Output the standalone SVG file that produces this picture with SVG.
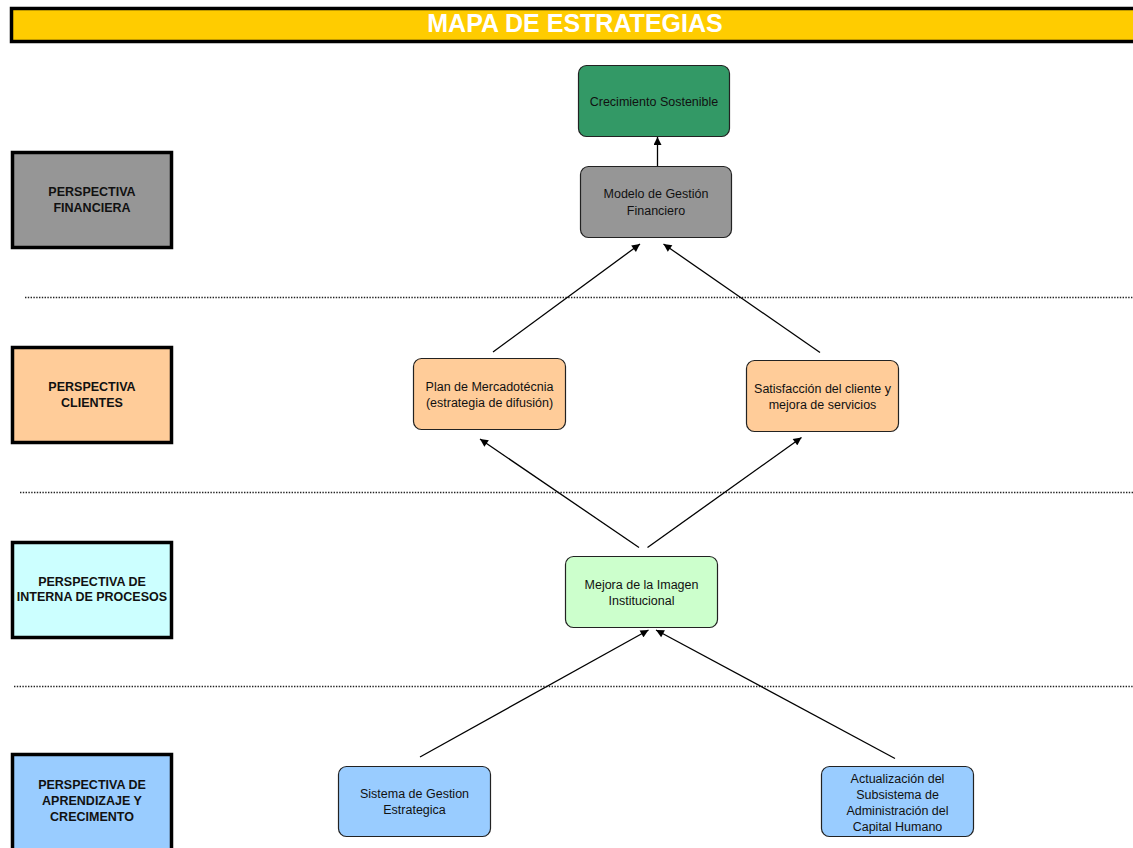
<svg xmlns="http://www.w3.org/2000/svg" width="1133" height="848" viewBox="0 0 1133 848">
<style>
.persp{stroke:#000;stroke-width:3.5}
.plabel{font-family:"Liberation Sans",Arial,sans-serif;font-weight:bold;font-size:12.5px;fill:#111;text-anchor:middle}
.node{stroke:#222;stroke-width:1.2}
.nlabel{font-family:"Liberation Sans",Arial,sans-serif;font-size:12.5px;fill:#111;text-anchor:middle}
.sep{stroke:#222;stroke-width:1.3;stroke-dasharray:1.4 1.4;fill:none}
.conn{stroke:#000;stroke-width:1.3;fill:none;marker-end:url(#arr)}
</style>
<defs>
<marker id="arr" viewBox="0 0 10 10" refX="10" refY="5" markerWidth="9" markerHeight="8" markerUnits="userSpaceOnUse" orient="auto">
<path d="M0,0 L10,5 L0,10 z" fill="#000"/>
</marker>
</defs>
<rect width="1133" height="848" fill="#fff"/>
<g id="title">
<rect x="11.5" y="8.5" width="1130" height="33" fill="#FFCC00" stroke="#000" stroke-width="3.5"/>
<text x="575" y="31.5" font-family="Liberation Sans,Arial,sans-serif" font-weight="bold" font-size="25" fill="#fff" text-anchor="middle">MAPA DE ESTRATEGIAS</text>
</g>
<g id="separators">
<line class="sep" x1="25" y1="297.5" x2="1133" y2="297.5"/>
<line class="sep" x1="20" y1="492.5" x2="1133" y2="492.5"/>
<line class="sep" x1="14" y1="686.5" x2="1133" y2="686.5"/>
</g>
<g id="persp-financiera">
<rect class="persp" x="12.5" y="152.5" width="159" height="95" fill="#969696"/>
<text class="plabel"><tspan x="92" y="196">PERSPECTIVA</tspan><tspan x="92" y="212">FINANCIERA</tspan></text>
</g>
<g id="persp-clientes">
<rect class="persp" x="12.5" y="347.5" width="159" height="95" fill="#FFCC99"/>
<text class="plabel"><tspan x="92" y="391">PERSPECTIVA</tspan><tspan x="92" y="407">CLIENTES</tspan></text>
</g>
<g id="persp-procesos">
<rect class="persp" x="12.5" y="542.5" width="159" height="95" fill="#CCFFFF"/>
<text class="plabel"><tspan x="92" y="586">PERSPECTIVA DE</tspan><tspan x="92" y="601">INTERNA DE PROCESOS</tspan></text>
</g>
<g id="persp-aprendizaje">
<rect class="persp" x="12.5" y="754.5" width="159" height="100" fill="#99CCFF"/>
<text class="plabel"><tspan x="92" y="789">PERSPECTIVA DE</tspan><tspan x="92" y="805">APRENDIZAJE Y</tspan><tspan x="92" y="821">CRECIMENTO</tspan></text>
</g>
<g id="n-crecimiento">
<rect class="node" x="578.5" y="65.5" width="151" height="71" rx="8" fill="#339966"/>
<text class="nlabel" x="654" y="105.5">Crecimiento Sostenible</text>
</g>
<g id="n-modelo">
<rect class="node" x="580.5" y="166.5" width="151" height="71" rx="8" fill="#969696"/>
<text class="nlabel"><tspan x="656" y="197.5">Modelo de Gestión</tspan><tspan x="656" y="214.5">Financiero</tspan></text>
</g>
<g id="n-plan">
<rect class="node" x="413.5" y="358.5" width="152" height="71" rx="8" fill="#FFCC99"/>
<text class="nlabel"><tspan x="489.5" y="390.5">Plan de Mercadotécnia</tspan><tspan x="489.5" y="407">(estrategia de difusión)</tspan></text>
</g>
<g id="n-satisfaccion">
<rect class="node" x="746.5" y="360.5" width="152" height="71" rx="8" fill="#FFCC99"/>
<text class="nlabel"><tspan x="822.5" y="392.5">Satisfacción del cliente y</tspan><tspan x="822.5" y="408.5">mejora de servicios</tspan></text>
</g>
<g id="n-mejora">
<rect class="node" x="565.5" y="556.5" width="152" height="71" rx="8" fill="#CCFFCC"/>
<text class="nlabel"><tspan x="641.5" y="588.5">Mejora de la Imagen</tspan><tspan x="641.5" y="604.5">Institucional</tspan></text>
</g>
<g id="n-sistema">
<rect class="node" x="338.5" y="766.5" width="152" height="70" rx="8" fill="#99CCFF"/>
<text class="nlabel"><tspan x="414.5" y="797.5">Sistema de Gestion</tspan><tspan x="414.5" y="814">Estrategica</tspan></text>
</g>
<g id="n-actualizacion">
<rect class="node" x="821.5" y="766.5" width="152" height="70" rx="8" fill="#99CCFF"/>
<text class="nlabel"><tspan x="897.5" y="782.5">Actualización del</tspan><tspan x="897.5" y="798.5">Subsistema de</tspan><tspan x="897.5" y="815">Administración del</tspan><tspan x="897.5" y="830.5">Capital Humano</tspan></text>
</g>
<g id="connectors">
<line class="conn" x1="657.5" y1="166" x2="657.5" y2="137"/>
<line class="conn" x1="493" y1="352" x2="640" y2="244"/>
<line class="conn" x1="820" y1="352.5" x2="663.5" y2="244"/>
<line class="conn" x1="639" y1="547.5" x2="480" y2="439"/>
<line class="conn" x1="647.5" y1="547.5" x2="801.5" y2="437.5"/>
<line class="conn" x1="420" y1="757" x2="648.5" y2="630"/>
<line class="conn" x1="895" y1="758.5" x2="656" y2="630"/>
</g>
</svg>
